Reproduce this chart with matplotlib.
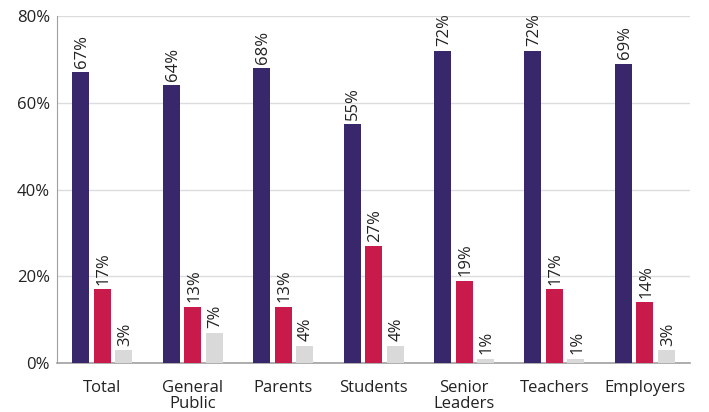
import numpy as np
import matplotlib.pyplot as plt

plt.rcParams['font.family'] = ['Open Sans', 'DejaVu Sans']

categories = ["Total", "General\nPublic", "Parents", "Students", "Senior\nLeaders", "Teachers", "Employers"]
series_a = [67, 64, 68, 55, 72, 72, 69]
series_b = [17, 13, 13, 27, 19, 17, 14]
series_c = [3, 7, 4, 4, 1, 1, 3]

colors = ["#38286b", "#c81a4b", "#d9d9d9"]

fig = plt.figure(figsize=(7.09, 4.12), dpi=100)
ax = fig.add_axes([0.0804, 0.119, 0.893, 0.842])

x = np.arange(len(categories))
step = 0.238
width = 0.188
for i, (vals, col) in enumerate(zip([series_a, series_b, series_c], colors)):
    pos = x + (i - 1) * step
    ax.bar(pos, vals, width=width, color=col, zorder=3)
    for px, v in zip(pos, vals):
        ax.text(px + 0.015, v + 1.0, f"{v}%", rotation=90, ha="center", va="bottom",
                fontsize=12, color="#222222", zorder=4)

ax.set_xlim(-0.5, len(categories) - 0.5)
ax.set_ylim(0, 80)
ax.set_yticks([0, 20, 40, 60, 80])
ax.set_yticklabels([f"{t}%" for t in [0, 20, 40, 60, 80]], fontsize=12)
ax.set_xticks(x)
ax.set_xticklabels(categories, fontsize=12, linespacing=1.05)
ax.tick_params(axis="both", length=0, colors="#222222")
ax.tick_params(axis="x", pad=12)
ax.tick_params(axis="y", pad=5)

ax.yaxis.grid(True, color="#dcdcdc", linewidth=1, zorder=0)
for s in ["top", "right"]:
    ax.spines[s].set_visible(False)
ax.spines["left"].set_color("#a0a0a0")
ax.spines["bottom"].set_color("#a0a0a0")
ax.spines["bottom"].set_linewidth(1.2)

fig.savefig("out.png", dpi=100)
